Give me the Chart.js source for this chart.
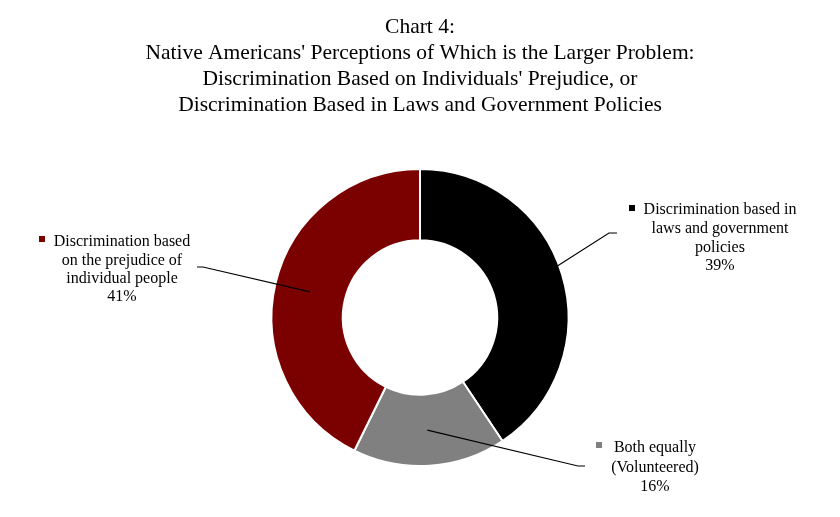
<!DOCTYPE html>
<html>
<head>
<meta charset="utf-8">
<script src="https://cdn.jsdelivr.net/npm/chart.js@4"></script>
<style>
  html, body { margin: 0; padding: 0; background: #fff; }
  #wrap { width: 840px; height: 517px; }
</style>
</head>
<body>
<div id="wrap"><canvas id="chart"></canvas></div>
<script>
// chart data
var categories = [
    ['Discrimination based in', 'laws and government', 'policies'],
    ['Both equally', '(Volunteered)'],
    ['Discrimination based', 'on the prejudice of', 'individual people']
];
var percents = [39, 16, 41];
var colors = ['#000000', '#808080', '#7b0000'];

var titleLines = [
    'Chart 4:',
    "Native Americans' Perceptions of Which is the Larger Problem:",
    "Discrimination Based on Individuals' Prejudice, or",
    'Discrimination Based in Laws and Government Policies'
];

// where each label sits: elbow of leader line, end of line, label centre, first line y, line gap
var labelLayout = [
    { elbow: [609, 233], end: [617, 233], cx: 720, y: 210, gap: 18.7, marker: [632, 208] },
    { elbow: [578, 466], end: [585, 466], cx: 655, y: 448, gap: 19.5, marker: [599, 445] },
    { elbow: [203, 267], end: [197, 267], cx: 122, y: 242, gap: 18.3, marker: [42, 239] }
];

var serif = '"Liberation Serif", "Times New Roman", serif';

var calloutPlugin = {
    id: 'callouts',
    afterDatasetsDraw: function (chart) {
        var ctx = chart.ctx;
        var meta = chart.getDatasetMeta(0);
        ctx.save();
        meta.data.forEach(function (arc, i) {
            var lay = labelLayout[i];
            var p = arc.tooltipPosition();
            // leader line
            ctx.strokeStyle = '#000';
            ctx.lineWidth = 1.2;
            ctx.beginPath();
            ctx.moveTo(p.x, p.y);
            ctx.lineTo(lay.elbow[0], lay.elbow[1]);
            ctx.lineTo(lay.end[0], lay.end[1]);
            ctx.stroke();

            // marker square
            ctx.fillStyle = colors[i];
            ctx.fillRect(lay.marker[0] - 3, lay.marker[1] - 3, 6, 6);

            // text
            ctx.fillStyle = '#000';
            ctx.font = '16px ' + serif;
            ctx.textAlign = 'center';
            ctx.textBaseline = 'middle';
            var lines = categories[i].concat([percents[i] + '%']);
            lines.forEach(function (t, j) {
                ctx.fillText(t, lay.cx, lay.y + j * lay.gap);
            });
        });
        ctx.restore();
    }
};

new Chart(document.getElementById('chart').getContext('2d'), {
    type: 'doughnut',
    data: {
        labels: categories.map(function (c) { return c.join(' '); }),
        datasets: [
            {
                data: percents,
                backgroundColor: colors,
                borderColor: '#ffffff',
                borderWidth: 2
            }
        ]
    },
    options: {
        responsive: true,
        maintainAspectRatio: false,
        animation: false,
        cutout: '52%',
        layout: { padding: { top: 0, bottom: 50, left: 0, right: 0 } },
        plugins: {
            legend: { display: false },
            tooltip: { enabled: false },
            title: {
                display: true,
                text: titleLines,
                color: '#000',
                font: { family: serif, size: 21.5, weight: 'normal', lineHeight: 1.21 },
                padding: { top: 14, bottom: 50 }
            }
        }
    },
    plugins: [calloutPlugin]
});
</script>
</body>
</html>
